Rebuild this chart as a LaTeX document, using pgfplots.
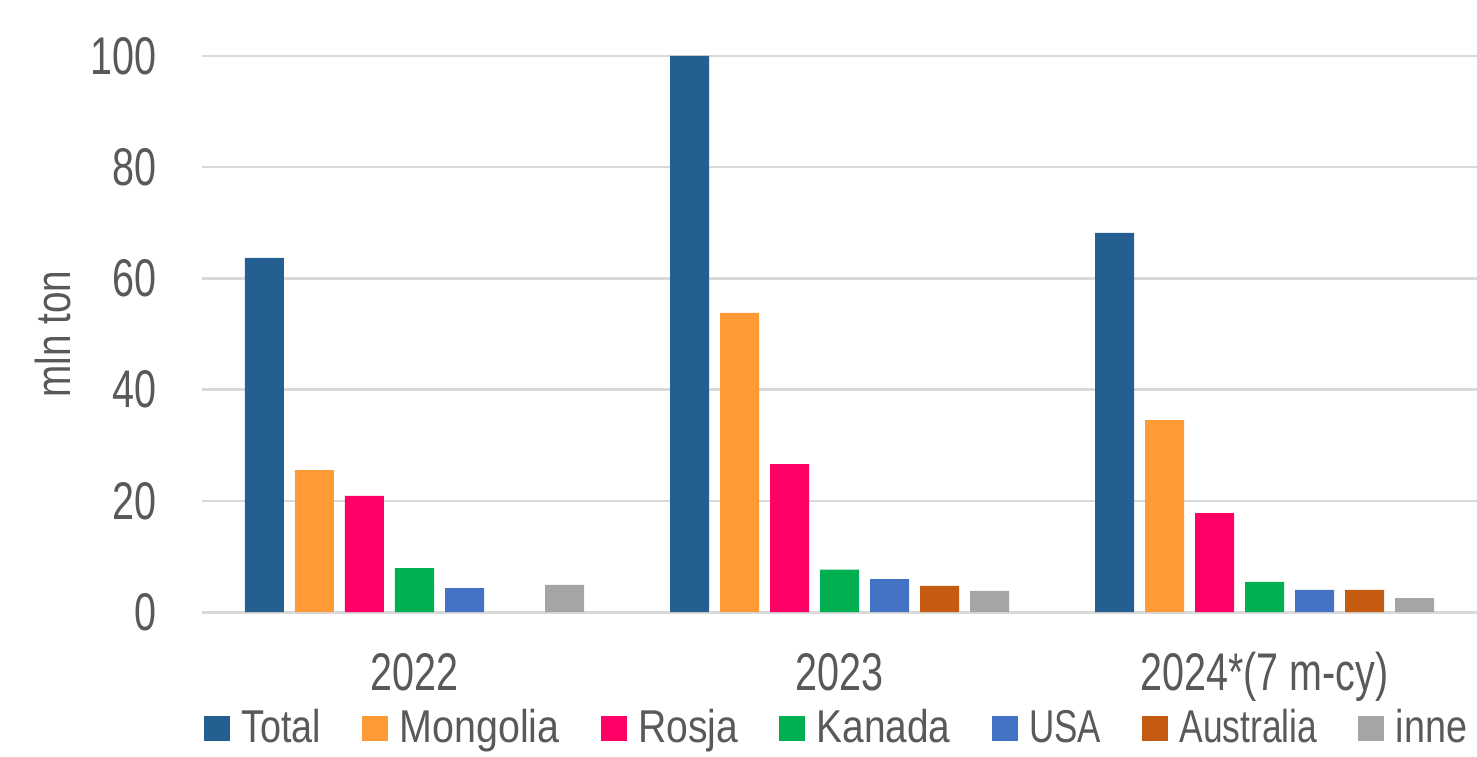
\documentclass[border=0pt]{standalone}
\usepackage{graphicx}
\usepackage{pgfplots}
\pgfplotsset{compat=1.18}
\usepackage{fontspec}
\setmainfont{Liberation Sans}
\newfontfamily\tickfont{Liberation Sans}[FakeStretch=0.745]
\newfontfamily\labfont{Liberation Sans}[FakeStretch=0.79]
\definecolor{cTotal}{HTML}{255E91}
\definecolor{cMon}{HTML}{FF9A36}
\definecolor{cRos}{HTML}{FF0066}
\definecolor{cKan}{HTML}{00B050}
\definecolor{cUSA}{HTML}{4472C4}
\definecolor{cAus}{HTML}{C55A11}
\definecolor{cInne}{HTML}{A5A5A5}
\definecolor{txt}{HTML}{595959}
\definecolor{grd}{HTML}{D9D9D9}
\begin{document}
\begin{tikzpicture}
\begin{axis}[
  scale only axis,
  width=637.5pt, height=278pt,
  xmin=-0.5, xmax=2.5, ymin=0, ymax=100,
  ybar=5.5pt, bar width=19.5pt,
  xtick={0,1,2},
  xticklabels={2022,2023,{2024*(7 m-cy)}},
  ytick={0,20,40,60,80,100},
  major tick length=0pt,
  /pgf/number format/assume math mode=true,
  ymajorgrids, major grid style={grd, line width=1.2pt},
  axis x line*=bottom, axis y line*=left,
  x axis line style={grd, line width=1.5pt, -},
  y axis line style={draw=none},
  xticklabel style={font=\tickfont\fontsize{26.5}{30}\selectfont, text=txt, anchor=base, inner sep=0pt, yshift=-39pt},
  yticklabel style={font=\tickfont\fontsize{26.5}{30}\selectfont, text=txt, anchor=east, inner sep=0pt, xshift=-22.5pt},
  ylabel={mln ton},
  ylabel style={font=\labfont\fontsize{24.5}{28}\selectfont, text=txt, at={(axis description cs:-0.1035,0.5)}, anchor=base, inner sep=0pt},
  legend columns=-1,
  legend image code/.code={\fill[#1] (0pt,0.6pt) rectangle (13pt,13.2pt);},
  legend style={draw=none, fill=none, inner sep=0pt, outer sep=0pt,
    font=\fontsize{23}{27}\selectfont, text=txt,
    at={(rel axis cs:0,0)}, anchor=north west, xshift=1pt, yshift=-48pt,
    cells={anchor=base west},
    nodes={inner sep=0pt, text height=17pt, text depth=5pt},
    /tikz/every odd column/.append style={column sep=5.75pt},
    /tikz/every even column/.append style={column sep=20.5pt}},
]
\addplot[fill=cTotal, draw=none] coordinates {(0,63.7) (1,100) (2,68.2)};
\addplot[fill=cMon, draw=none] coordinates {(0,25.5) (1,53.8) (2,34.5)};
\addplot[fill=cRos, draw=none] coordinates {(0,20.9) (1,26.6) (2,17.8)};
\addplot[fill=cKan, draw=none] coordinates {(0,7.9) (1,7.6) (2,5.4)};
\addplot[fill=cUSA, draw=none] coordinates {(0,4.3) (1,5.9) (2,4.0)};
\addplot[fill=cAus, draw=none] coordinates {(1,4.7) (2,4.0)};
\addplot[fill=cInne, draw=none] coordinates {(0,4.9) (1,3.8) (2,2.5)};
\legend{\scalebox{0.82}[1]{Total},\scalebox{0.857}[1]{Mongolia},\scalebox{0.85}[1]{Rosja},\scalebox{0.845}[1]{Kanada},\scalebox{0.76}[1]{USA},\scalebox{0.77}[1]{Australia},\scalebox{0.82}[1]{inne}}
\node[coordinate] (O) at (rel axis cs:0,0) {};
\end{axis}
\pgfresetboundingbox
\path[use as bounding box] ([shift={(-101pt,-72pt)}]O) rectangle ([shift={(637.5pt,306pt)}]O);
\end{tikzpicture}
\end{document}
